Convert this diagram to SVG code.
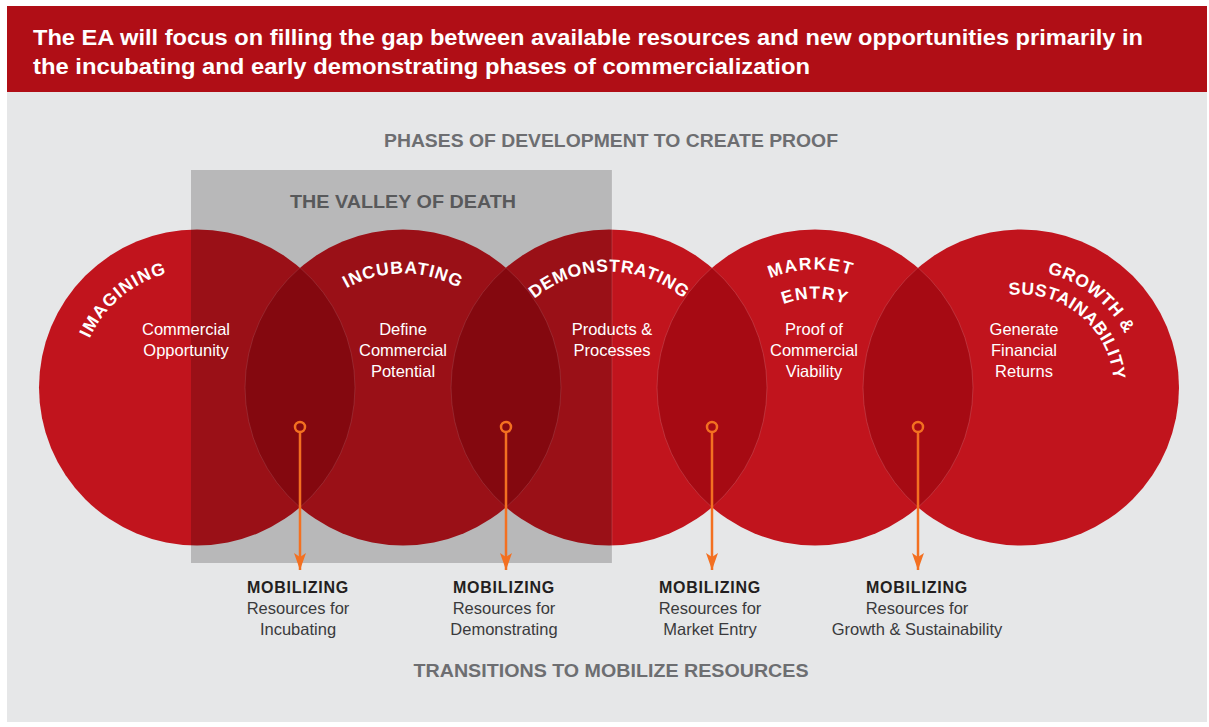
<svg xmlns="http://www.w3.org/2000/svg" width="1209" height="727" viewBox="0 0 1209 727">
<style>
.title{font-family:"Liberation Sans",Arial,sans-serif;font-weight:bold;font-size:22px;fill:#ffffff}
.head{font-family:"Liberation Sans",Arial,sans-serif;font-weight:bold;fill:#6d6e71;text-anchor:middle}
.arc{font-family:"Liberation Sans",Arial,sans-serif;font-weight:bold;font-size:17.5px;fill:#ffffff}
.body{font-family:"Liberation Sans",Arial,sans-serif;font-size:16.5px;fill:#ffffff;text-anchor:middle}
.mob{font-family:"Liberation Sans",Arial,sans-serif;font-weight:bold;font-size:16px;fill:#231f20;text-anchor:middle;letter-spacing:0.8px}
.res{font-family:"Liberation Sans",Arial,sans-serif;font-size:16.5px;fill:#3a3a3c;text-anchor:middle}
.circ{fill:#c1141d}
.lens{fill:#a60a13;stroke:#d9737a;stroke-width:0.6;stroke-opacity:0.6}
.conn{stroke:#f37021;stroke-width:2.5;fill:none}
</style>
<defs>
<marker id="ah" viewBox="0 0 17 12" refX="17" refY="6" markerWidth="17" markerHeight="12" markerUnits="userSpaceOnUse" orient="auto">
<path d="M0,0 L17,6 L0,12 L4,6 Z" fill="#f37021"/>
</marker>
<path id="p1" d="M156.6,498.4 A118,118 0 1 1 313.2,367.0"/>
<path id="p2" d="M304.3,444.5 A114,114 0 1 1 501.7,444.5"/>
<path id="p3" d="M508.5,445.5 A116,116 0 1 1 709.5,445.5"/>
<path id="p4a" d="M715.0,450.0 A118,118 0 1 1 919.2,442.9"/>
<path id="p4b" d="M737.9,432 A89,89 0 1 1 892.1,432"/>
<path id="p5a" d="M905.1,371.2 A117,117 0 1 1 1064.8,496.0"/>
<path id="p5b" d="M929.1,373.0 A93,93 0 1 1 1054.3,474.3"/>
</defs>
<rect x="0" y="0" width="1209" height="727" fill="#ffffff"/>
<rect x="7" y="92" width="1200" height="630" fill="#e6e7e8"/>
<g id="header">
<rect x="7" y="6" width="1200" height="86" fill="#b00e16"/>
<text class="title" x="33" y="45" textLength="1110" lengthAdjust="spacingAndGlyphs">The EA will focus on filling the gap between available resources and new opportunities primarily in</text>
<text class="title" x="33" y="74" textLength="777" lengthAdjust="spacingAndGlyphs">the incubating and early demonstrating phases of commercialization</text>
</g>
<text class="head" x="611" y="147" font-size="18" textLength="454" lengthAdjust="spacingAndGlyphs">PHASES OF DEVELOPMENT TO CREATE PROOF</text>
<g id="imagining">
<circle class="circ" cx="197" cy="387.5" r="158"/>
</g>
<g id="incubating">
<circle class="circ" cx="403" cy="387.5" r="158"/>
</g>
<g id="demonstrating">
<circle class="circ" cx="609" cy="387.5" r="158"/>
</g>
<g id="market-entry">
<circle class="circ" cx="815" cy="387.5" r="158"/>
</g>
<g id="growth">
<circle class="circ" cx="1021" cy="387.5" r="158"/>
</g>
<g id="overlaps">
<path class="lens" d="M300,267.7 A158,158 0 0 1 300,507.3 A158,158 0 0 1 300,267.7 Z"/>
<path class="lens" d="M506,267.7 A158,158 0 0 1 506,507.3 A158,158 0 0 1 506,267.7 Z"/>
<path class="lens" d="M712,267.7 A158,158 0 0 1 712,507.3 A158,158 0 0 1 712,267.7 Z"/>
<path class="lens" d="M918,267.7 A158,158 0 0 1 918,507.3 A158,158 0 0 1 918,267.7 Z"/>
</g>
<g id="valley-of-death">
<rect x="191" y="170" width="421" height="393" fill="#000000" fill-opacity="0.2"/>
<line x1="612" y1="170" x2="612" y2="563" stroke="#ffffff" stroke-opacity="0.15" stroke-width="1"/>
<text class="head" x="403" y="208" font-size="19" style="fill:#58595b" textLength="226" lengthAdjust="spacingAndGlyphs">THE VALLEY OF DEATH</text>
</g>
<g id="labels">
<text class="arc" letter-spacing="1.2"><textPath href="#p1" startOffset="50%" text-anchor="middle">IMAGINING</textPath></text>
<text class="arc" letter-spacing="0.9"><textPath href="#p2" startOffset="50%" text-anchor="middle">INCUBATING</textPath></text>
<text class="arc" letter-spacing="0.7"><textPath href="#p3" startOffset="50%" text-anchor="middle">DEMONSTRATING</textPath></text>
<text class="arc" letter-spacing="1.5"><textPath href="#p4a" startOffset="50%" text-anchor="middle">MARKET</textPath></text>
<text class="arc" letter-spacing="1.2"><textPath href="#p4b" startOffset="50%" text-anchor="middle">ENTRY</textPath></text>
<text class="arc" letter-spacing="0.6"><textPath href="#p5a" startOffset="50%" text-anchor="middle">GROWTH &amp;</textPath></text>
<text class="arc" letter-spacing="0.5"><textPath href="#p5b" startOffset="50%" text-anchor="middle">SUSTAINABILITY</textPath></text>
<text class="body" x="186" y="335">Commercial</text>
<text class="body" x="186" y="356">Opportunity</text>
<text class="body" x="403" y="335">Define</text>
<text class="body" x="403" y="356">Commercial</text>
<text class="body" x="403" y="377">Potential</text>
<text class="body" x="612" y="335">Products &amp;</text>
<text class="body" x="612" y="356">Processes</text>
<text class="body" x="814" y="335">Proof of</text>
<text class="body" x="814" y="356">Commercial</text>
<text class="body" x="814" y="377">Viability</text>
<text class="body" x="1024" y="335">Generate</text>
<text class="body" x="1024" y="356">Financial</text>
<text class="body" x="1024" y="377">Returns</text>
</g>
<g id="connectors">
<circle class="conn" cx="300" cy="427" r="5"/>
<line class="conn" x1="300" y1="432" x2="300" y2="570" marker-end="url(#ah)"/>
<circle class="conn" cx="506" cy="427" r="5"/>
<line class="conn" x1="506" y1="432" x2="506" y2="570" marker-end="url(#ah)"/>
<circle class="conn" cx="712" cy="427" r="5"/>
<line class="conn" x1="712" y1="432" x2="712" y2="570" marker-end="url(#ah)"/>
<circle class="conn" cx="918" cy="427" r="5"/>
<line class="conn" x1="918" y1="432" x2="918" y2="570" marker-end="url(#ah)"/>
</g>
<g id="mob1">
<text class="mob" x="298" y="593">MOBILIZING</text>
<text class="res" x="298" y="614">Resources for</text>
<text class="res" x="298" y="635">Incubating</text>
</g>
<g id="mob2">
<text class="mob" x="504" y="593">MOBILIZING</text>
<text class="res" x="504" y="614">Resources for</text>
<text class="res" x="504" y="635">Demonstrating</text>
</g>
<g id="mob3">
<text class="mob" x="710" y="593">MOBILIZING</text>
<text class="res" x="710" y="614">Resources for</text>
<text class="res" x="710" y="635">Market Entry</text>
</g>
<g id="mob4">
<text class="mob" x="917" y="593">MOBILIZING</text>
<text class="res" x="917" y="614">Resources for</text>
<text class="res" x="917" y="635">Growth &amp; Sustainability</text>
</g>
<text class="head" x="611" y="677" font-size="17.5" textLength="395" lengthAdjust="spacingAndGlyphs">TRANSITIONS TO MOBILIZE RESOURCES</text>
</svg>
